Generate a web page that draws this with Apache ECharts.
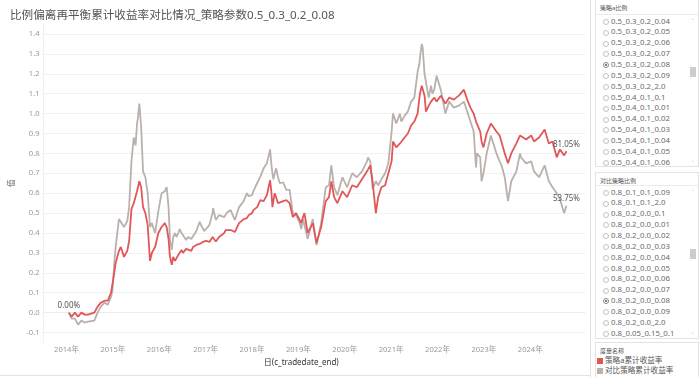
<!DOCTYPE html>
<html><head><meta charset="utf-8">
<script src="https://cdn.jsdelivr.net/npm/echarts@6/dist/echarts.min.js"></script>
<style>
html,body{margin:0;padding:0;background:#fff;width:700px;height:377px;overflow:hidden;font-family:"Noto Sans","Noto Sans CJK SC",sans-serif;}
#chart{position:absolute;left:0;top:0;width:590px;height:377px;}
#divider{position:absolute;left:590px;top:0;width:1px;height:377px;background:#e2e2e2;}
#bottomline{position:absolute;left:0;top:375px;width:590px;height:1px;background:#e2e2e2;}
.card{position:absolute;left:595px;width:104px;border:1px solid #e3e3e3;background:#fff;box-sizing:border-box;}
.hdr{position:absolute;left:4px;font-size:6px;color:#555;white-space:nowrap;}
.sep{position:absolute;left:0;right:0;height:1px;background:#ececec;}
.row{position:absolute;left:0;width:90px;height:10.86px;line-height:10.86px;font-size:7.8px;color:#6a6a6a;white-space:nowrap;}
.radio{position:absolute;left:7px;top:3.2px;width:4px;height:4px;border:0.6px solid #c4c4c4;border-radius:50%;box-sizing:content-box;}
.radio.on{border-color:#888;}
.radio.on::after{content:"";position:absolute;left:1px;top:1px;width:2px;height:2px;border-radius:50%;background:#555;}
.txt{position:absolute;left:15px;top:0;}
.thumb{position:absolute;right:2px;width:6px;background:#cdcdcd;}
.arr{position:absolute;right:2px;width:7px;font-size:6px;color:#888;text-align:center;line-height:6px;}
.leg{position:absolute;left:1px;height:10px;font-size:7.6px;color:#555;white-space:nowrap;line-height:10px;}
.sq{display:inline-block;width:6px;height:6px;margin-right:2px;vertical-align:-0.5px;}
</style></head>
<body>
<div id="chart"></div>
<div id="divider"></div>
<div id="bottomline"></div>
<div id="panel"></div>
<script>
// ---------------- data ----------------
const title = '比例偏离再平衡累计收益率对比情况_策略参数0.5_0.3_0.2_0.08';
const seriesNames = ['策略a累计收益率', '对比策略累计收益率'];
const yTicks = [-0.1,0.0,0.1,0.2,0.3,0.4,0.5,0.6,0.7,0.8,0.9,1.0,1.1,1.2,1.3,1.4];
const xTicks = [2014,2015,2016,2017,2018,2019,2020,2021,2022,2023,2024];
// decimal year of each point
const dates = [2014.05,2014.11,2014.18,2014.25,2014.32,2014.39,2014.46,2014.60,2014.67,2014.74,2014.82,2014.89,2014.92,2014.96,2014.99,
2015.03,2015.06,2015.13,2015.17,2015.24,2015.31,2015.35,2015.40,2015.45,2015.49,2015.52,2015.54,2015.57,2015.61,2015.65,2015.70,2015.75,2015.80,2015.84,2015.91,2015.98,
2016.05,2016.12,2016.16,2016.20,2016.23,2016.27,2016.30,2016.34,2016.37,2016.41,2016.44,2016.48,2016.51,2016.58,2016.62,2016.69,2016.73,2016.80,2016.83,2016.87,2016.90,2016.94,2016.97,
2017.01,2017.08,2017.15,2017.16,2017.22,2017.29,2017.40,2017.43,2017.47,2017.54,2017.63,2017.65,2017.72,2017.82,2017.89,2017.93,
2018.00,2018.03,2018.07,2018.11,2018.18,2018.25,2018.32,2018.39,2018.42,2018.44,2018.46,2018.49,2018.52,2018.56,2018.60,2018.67,2018.74,2018.81,2018.88,2018.95,2018.99,
2019.03,2019.06,2019.10,2019.13,2019.20,2019.31,2019.39,2019.49,2019.59,2019.66,2019.71,2019.77,2019.84,2019.95,
2020.05,2020.16,2020.26,2020.37,2020.48,2020.50,2020.55,2020.60,2020.67,2020.72,2020.79,2020.87,2020.94,
2021.01,2021.04,2021.11,2021.19,2021.22,2021.29,2021.36,2021.43,2021.50,2021.57,2021.61,2021.62,2021.66,2021.68,2021.72,2021.75,2021.81,2021.86,2021.89,2021.93,2021.98,
2022.00,2022.07,2022.17,2022.25,2022.35,2022.46,2022.57,2022.64,2022.71,2022.78,2022.83,2022.85,2022.92,2022.95,2022.99,
2023.06,2023.15,2023.27,2023.34,2023.38,2023.45,2023.52,2023.59,2023.70,2023.78,2023.80,2023.91,
2024.02,2024.08,2024.19,2024.31,2024.40,2024.48,2024.57,2024.64,2024.73,2024.78];
// 策略a累计收益率
const stratA = [0.00,-0.02,0.00,-0.02,0.00,-0.01,-0.01,0.00,0.03,0.05,0.06,0.06,0.05,0.10,0.11,
0.20,0.25,0.31,0.33,0.28,0.31,0.36,0.52,0.55,0.56,0.61,0.63,0.66,0.63,0.53,0.50,0.44,0.26,0.30,0.33,0.40,
0.43,0.45,0.43,0.37,0.28,0.24,0.28,0.26,0.27,0.29,0.30,0.315,0.30,0.32,0.33,0.31,0.33,0.34,0.35,0.345,0.34,0.355,0.365,
0.36,0.355,0.38,0.375,0.357,0.38,0.40,0.415,0.42,0.415,0.405,0.41,0.45,0.47,0.475,0.49,
0.50,0.515,0.52,0.53,0.565,0.56,0.59,0.665,0.60,0.53,0.56,0.60,0.58,0.55,0.555,0.56,0.565,0.55,0.48,0.50,0.49,
0.465,0.45,0.48,0.50,0.40,0.45,0.35,0.43,0.56,0.58,0.66,0.58,0.55,0.61,
0.58,0.64,0.63,0.67,0.71,0.72,0.74,0.66,0.50,0.58,0.63,0.64,0.70,
0.76,0.86,0.83,0.85,0.84,0.88,0.90,0.94,0.96,1.00,1.08,1.10,1.14,1.15,1.09,1.01,1.04,1.06,1.05,1.08,1.06,
1.07,1.09,1.05,1.08,1.07,1.09,1.12,1.07,1.03,1.00,0.96,0.95,0.91,0.86,0.83,
0.90,0.95,0.91,0.89,0.88,0.80,0.75,0.80,0.85,0.89,0.90,0.87,
0.89,0.86,0.88,0.92,0.85,0.86,0.78,0.82,0.79,0.8105];
// 对比策略累计收益率
const stratB = [0.00,-0.03,-0.03,-0.06,-0.04,-0.05,-0.045,-0.04,0.00,0.03,0.05,0.04,0.04,0.08,0.11,
0.25,0.33,0.47,0.46,0.43,0.46,0.53,0.76,0.88,0.84,0.95,0.98,1.05,0.93,0.71,0.68,0.60,0.43,0.45,0.40,0.51,
0.60,0.61,0.63,0.53,0.365,0.315,0.38,0.40,0.38,0.40,0.42,0.40,0.39,0.365,0.38,0.37,0.365,0.41,0.43,0.457,0.44,0.43,0.41,
0.40,0.44,0.50,0.525,0.465,0.49,0.48,0.49,0.505,0.515,0.465,0.47,0.53,0.56,0.60,0.585,
0.59,0.61,0.63,0.65,0.683,0.725,0.75,0.82,0.74,0.70,0.67,0.70,0.725,0.68,0.65,0.655,0.617,0.617,0.50,0.49,0.48,
0.45,0.42,0.47,0.46,0.37,0.47,0.34,0.45,0.63,0.64,0.74,0.63,0.59,0.68,
0.63,0.70,0.68,0.71,0.76,0.78,0.76,0.62,0.66,0.64,0.67,0.70,0.75,
0.91,1.00,0.95,1.00,0.96,0.99,1.01,1.06,1.08,1.21,1.25,1.28,1.35,1.33,1.20,1.16,1.08,1.14,1.10,1.12,1.19,
1.18,1.12,1.00,1.06,1.03,1.04,1.06,1.01,0.96,0.91,0.73,0.80,0.78,0.66,0.70,
0.80,0.89,0.80,0.76,0.74,0.68,0.56,0.66,0.71,0.80,0.78,0.75,
0.76,0.71,0.68,0.74,0.66,0.63,0.60,0.57,0.50,0.5375];
// side-panel filter lists
const filterA = ['0.5_0.3_0.2_0.04','0.5_0.3_0.2_0.05','0.5_0.3_0.2_0.06','0.5_0.3_0.2_0.07','0.5_0.3_0.2_0.08','0.5_0.3_0.2_0.09','0.5_0.3_0.2_2.0','0.5_0.4_0.1_0.1','0.5_0.4_0.1_0.01','0.5_0.4_0.1_0.02','0.5_0.4_0.1_0.03','0.5_0.4_0.1_0.04','0.5_0.4_0.1_0.05','0.5_0.4_0.1_0.06'];
const filterB = ['0.8_0.1_0.1_0.09','0.8_0.1_0.1_2.0','0.8_0.2_0.0_0.1','0.8_0.2_0.0_0.01','0.8_0.2_0.0_0.02','0.8_0.2_0.0_0.03','0.8_0.2_0.0_0.04','0.8_0.2_0.0_0.05','0.8_0.2_0.0_0.06','0.8_0.2_0.0_0.07','0.8_0.2_0.0_0.08','0.8_0.2_0.0_0.09','0.8_0.2_0.0_2.0','0.8_0.05_0.15_0.1'];
const selectedA = '0.5_0.3_0.2_0.08';
const selectedB = '0.8_0.2_0.0_0.08';
const colors = ['#e15759', '#bab0ac'];

// ---------------- chart ----------------
const pct = v => (v * 100).toFixed(2) + '%';
function build(vals, labelFirst) {
  const last = vals.length - 1;
  return vals.map((v, i) => {
    const item = { value: [dates[i], v] };
    if (i === last || (labelFirst && i === 0)) {
      item.label = { show: true, position: 'top', distance: 3, formatter: pct(v) };
    }
    return item;
  });
}
const FONT = '"Noto Sans","Noto Sans CJK SC",sans-serif';
const chart = echarts.init(document.getElementById('chart'), null, { renderer: 'canvas' });
chart.setOption({
  animation: false,
  title: { text: title, left: 5, top: 5, textStyle: { fontSize: 11.6, fontWeight: 'normal', color: '#555', fontFamily: FONT } },
  grid: { left: 35, top: 24, width: 550, height: 318.5, containLabel: false },
  xAxis: {
    type: 'value', min: 2013.505, max: 2025.18,
    name: '日(c_tradedate_end)', nameLocation: 'middle', nameGap: 16,
    nameTextStyle: { fontSize: 8, color: '#333', fontFamily: FONT, padding: [0, 26, 0, 0] },
    axisLine: { show: true, lineStyle: { color: '#ececec', width: 1 } },
    axisTick: { show: false, customValues: xTicks },
    splitLine: { show: false },
    axisLabel: { customValues: xTicks, formatter: v => v + '年', fontSize: 7.6, color: '#999', margin: 4, fontFamily: FONT }
  },
  yAxis: {
    type: 'value', min: -0.15, max: 1.45,
    name: '值', nameLocation: 'middle', nameGap: 16, nameRotate: 90,
    nameTextStyle: { fontSize: 7.5, color: '#666', fontFamily: FONT },
    axisLine: { show: true, lineStyle: { color: '#f0f0f0', width: 1 } },
    axisTick: { show: false, customValues: yTicks },
    splitLine: { show: true, lineStyle: { color: '#f1f1f1', width: 1 } },
    axisLabel: { customValues: yTicks, formatter: v => v.toFixed(1), fontSize: 7.6, color: '#999', margin: 4, fontFamily: FONT }
  },
  series: [
    {
      name: seriesNames[1], type: 'line', data: build(stratB, false), z: 2,
      showSymbol: true, symbol: 'circle', symbolSize: 0.01, silent: true,
      lineStyle: { color: colors[1], width: 1.8 }, itemStyle: { color: colors[1] },
      label: { show: false, fontSize: 8, color: '#555', fontFamily: FONT }
    },
    {
      name: seriesNames[0], type: 'line', data: build(stratA, true), z: 3,
      showSymbol: true, symbol: 'circle', symbolSize: 0.01, silent: true,
      lineStyle: { color: colors[0], width: 1.8 }, itemStyle: { color: colors[0] },
      label: { show: false, fontSize: 8, color: '#555', fontFamily: FONT }
    }
  ]
});

// ---------------- side panel ----------------
const panel = document.getElementById('panel');
function card(top, height, header, items, selected, listTop, thumbTop) {
  const c = document.createElement('div');
  c.className = 'card';
  c.style.top = top + 'px';
  c.style.height = height + 'px';
  let html = '<div class="hdr" style="top:3px">' + header + '</div>';
  html += '<div class="sep" style="top:' + (listTop - 2) + 'px"></div>';
  items.forEach((t, i) => {
    html += '<div class="row" style="top:' + (listTop + i * 10.86) + 'px"><span class="radio' + (t === selected ? ' on' : '') + '"></span><span class="txt">' + t + '</span></div>';
  });
  html += '<div class="arr" style="top:' + (listTop + 2) + 'px">&#708;</div>';
  html += '<div class="arr" style="top:' + (height - 8) + 'px">&#709;</div>';
  html += '<div class="thumb" style="top:' + thumbTop + 'px;height:10px"></div>';
  c.innerHTML = html;
  panel.appendChild(c);
}
card(-1, 168, '策略a比例', filterA, selectedA, 15.6, 67);
card(172, 167, '对比策略比例', filterB, selectedB, 13.6, 76);
const lg = document.createElement('div');
lg.className = 'card';
lg.style.top = '342px';
lg.style.height = '36px';
lg.innerHTML = '<div class="hdr" style="top:3px">度量名称</div>' +
  seriesNames.map((n, i) => '<div class="leg" style="top:' + (12 + i * 10) + 'px"><span class="sq" style="background:' + colors[i] + '"></span>' + n + '</div>').join('');
panel.appendChild(lg);
</script>
</body></html>
